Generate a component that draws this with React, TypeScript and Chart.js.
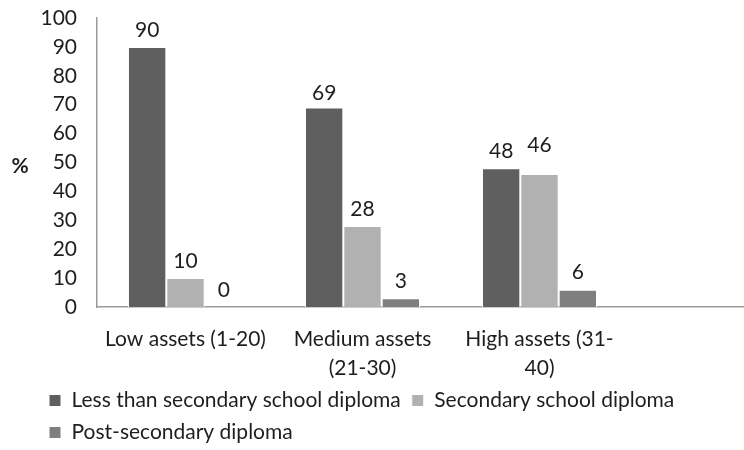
import React, { useEffect, useRef } from "react";
import { Chart, registerables } from "chart.js";

Chart.register(...registerables);

// ---- data ----
const categories: string[][] = [
  ["Low assets (1-20)"],
  ["Medium assets", "(21-30)"],
  ["High assets (31-", "40)"],
  [""],
];
const seriesNames = [
  "Less than secondary school diploma",
  "Secondary school diploma",
  "Post-secondary diploma",
];
const lessThanSecondary = [90, 69, 48];
const secondaryDiploma = [10, 28, 46];
const postSecondary = [0, 3, 6];
const yMin = 0;
const yMax = 100;
const yStep = 10;
const yAxisLabel = "%";

// ---- style ----
const FONT = "Lato";
const TEXT = "#1e1e1e";
const AXIS = "#9a9a9a";
const COLORS = ["#5f5f5f", "#b1b1b1", "#7f7f7f"];
const FS = 21;

const valueLabels = {
  id: "valueLabels",
  afterDatasetsDraw(chart: any) {
    const { ctx } = chart;
    const extra: Record<string, number> = { "1-2": 12, "0-1": -3 };
    ctx.save();
    ctx.font = `${FS}px ${FONT}`;
    ctx.fillStyle = TEXT;
    ctx.textAlign = "center";
    ctx.textBaseline = "middle";
    chart.data.datasets.forEach((ds: any, i: number) => {
      const meta = chart.getDatasetMeta(i);
      meta.data.forEach((el: any, j: number) => {
        const v = ds.data[j];
        if (v === null || v === undefined) return;
        const lift = 17 + (extra[`${i}-${j}`] || 0);
        ctx.fillText(String(v), el.x, el.y - lift);
      });
    });
    ctx.restore();
  },
};

const axisUnit = {
  id: "axisUnit",
  afterDraw(chart: any) {
    const { ctx, chartArea } = chart;
    ctx.save();
    ctx.font = `bold ${FS}px ${FONT}`;
    ctx.fillStyle = TEXT;
    ctx.textAlign = "center";
    ctx.textBaseline = "middle";
    ctx.fillText(yAxisLabel, 20, (chartArea.top + chartArea.bottom) / 2 + 4);
    ctx.restore();
  },
};

export default function App() {
  const ref = useRef<HTMLCanvasElement | null>(null);

  useEffect(() => {
    if (!ref.current) return;
    const data = [lessThanSecondary, secondaryDiploma, postSecondary];
    const chart = new Chart(ref.current, {
      type: "bar",
      data: {
        labels: categories as any,
        datasets: seriesNames.map((name, i) => ({
          label: name,
          data: data[i],
          backgroundColor: COLORS[i],
          borderColor: "#ffffff",
          borderWidth: 1,
          borderSkipped: "bottom",
          categoryPercentage: 0.65,
          barPercentage: 1,
        })),
      },
      options: {
        animation: false,
        responsive: false,
        devicePixelRatio: 1,
        layout: { padding: { left: 38, top: 18, right: 3, bottom: 0 } },
        scales: {
          x: {
            grid: { display: false, drawTicks: false },
            border: { display: true, color: AXIS, width: 1.5 },
            ticks: {
              color: TEXT,
              font: { family: FONT, size: FS, lineHeight: 1.38 },
              padding: 18,
              maxRotation: 0,
              autoSkip: false,
            },
            afterFit: (s: any) => {
              s.height = 72;
            },
          },
          y: {
            min: yMin,
            max: yMax,
            grid: { display: false, drawTicks: false },
            border: { display: true, color: AXIS, width: 1.5 },
            ticks: {
              stepSize: yStep,
              autoSkip: false,
              color: TEXT,
              font: { family: FONT, size: FS },
              padding: 20,
            },
            afterFit: (s: any) => {
              s.width = 59;
              s.paddingTop = 0;
              s.paddingBottom = 0;
            },
          },
        },
        plugins: {
          legend: {
            position: "bottom",
            align: "start",
            labels: {
              boxWidth: 12,
              boxHeight: 12,
              padding: 11,
              color: TEXT,
              font: { family: FONT, size: FS },
            },
          },
          tooltip: { enabled: false },
        },
      },
      plugins: [valueLabels, axisUnit],
    });
    return () => chart.destroy();
  }, []);

  return (
    <div
      style={{
        position: "fixed",
        left: 0,
        top: 0,
        width: 744,
        height: 450,
        overflow: "hidden",
        background: "#ffffff",
      }}
    >
      <canvas ref={ref} width={808} height={453} style={{ width: 808, height: 453, display: "block" }} />
    </div>
  );
}
